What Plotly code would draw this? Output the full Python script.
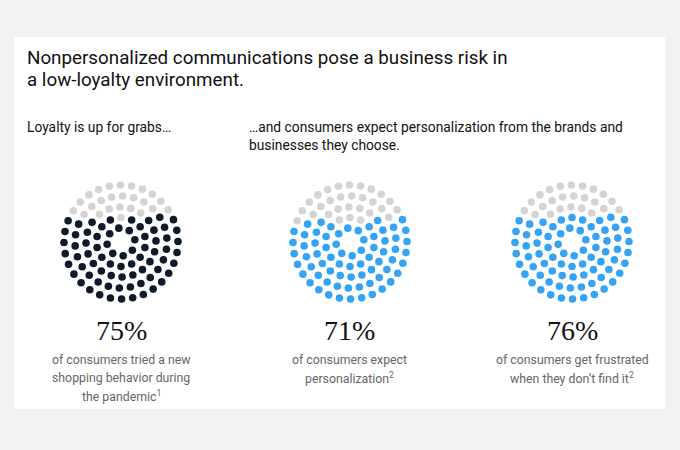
import math
import plotly.graph_objects as go

# ---- data ----
percentages = [75, 71, 76]
pct_labels = ["75%", "71%", "76%"]
fill_colors = ["#0f1b2b", "#35a4f4", "#35a4f4"]
descriptions = [
    ["of consumers tried a new", "shopping behavior during", "the pandemic<sup>1</sup>"],
    ["of consumers expect", "personalization<sup>2</sup>"],
    ["of consumers get frustrated", "when they don\u2019t find it<sup>2</sup>"],
]
title_lines = ["Nonpersonalized communications pose a business risk in",
               "a low-loyalty environment."]
sub_left = ["Loyalty is up for grabs\u2026"]
sub_right = ["\u2026and consumers expect personalization from the brands and",
             "businesses they choose."]
total_dots = 100

# ---- layout constants (pixels) ----
W, H = 680, 450
centers_x = [121, 350, 572]
center_y = 242
ring_counts = [8, 14, 20, 26, 32]
ring_radii = [14, 24.5, 35, 46, 57]
ring_offsets = [0.2, 0.5, 0.1, 0.35, 0.05]
GRAY = "#d4d4d4"

pts = []
for n, r, off in zip(ring_counts, ring_radii, ring_offsets):
    for k in range(n):
        a = 2 * math.pi * (k + off) / n
        pts.append((r * math.cos(a), r * math.sin(a)))
order = sorted(range(len(pts)), key=lambda i: pts[i][1] - 0.06 * pts[i][0])

fig = go.Figure()
half = 66
for idx, (cx, p, col) in enumerate(zip(centers_x, percentages, fill_colors)):
    filled = set(order[:p])
    colors = [col if i in filled else GRAY for i in range(len(pts))]
    ax = "" if idx == 0 else str(idx + 1)
    fig.add_trace(go.Scatter(
        x=[q[0] for q in pts], y=[q[1] for q in pts], mode="markers",
        marker=dict(size=7.6, color=colors, line=dict(width=0)),
        xaxis="x" + ax, yaxis="y" + ax, hoverinfo="skip", showlegend=False))
    xd = [(cx - half) / W, (cx + half) / W]
    yd = [(H - center_y - half) / H, (H - center_y + half) / H]
    axis_style = dict(visible=False, range=[-half, half], fixedrange=True)
    fig.update_layout(**{
        "xaxis" + ax: dict(domain=xd, **axis_style),
        "yaxis" + ax: dict(domain=yd, **axis_style),
    })

ann = []
def add_text(text, x, y, size, color, family, anchor="left", weight=None):
    f = dict(size=size, color=color, family=family)
    if weight:
        f["weight"] = weight
    ann.append(dict(text=text, x=x / W, y=1 - y / H, xref="paper", yref="paper",
                    xanchor=anchor, yanchor="middle", showarrow=False, font=f))

sans = "Roboto, Liberation Sans, sans-serif"
for i, line in enumerate(title_lines):
    add_text(line, 25, 58 + i * 22, 18.8, "#111111", sans)
for i, line in enumerate(sub_left):
    add_text(line, 25, 127 + i * 18, 13.8, "#111111", sans)
for i, line in enumerate(sub_right):
    add_text(line, 247, 127 + i * 18, 13.8, "#111111", sans)
for cx, lab, lines in zip(centers_x, pct_labels, descriptions):
    add_text(lab, cx, 330, 28, "#111111", "Liberation Serif, serif", anchor="center")
    for j, line in enumerate(lines):
        add_text(line, cx, 360 + j * 18, 12.3, "#666666", sans, anchor="center")

fig.update_layout(
    width=W, height=H, margin=dict(l=0, r=0, t=0, b=0),
    paper_bgcolor="#f2f2f2", plot_bgcolor="rgba(0,0,0,0)",
    annotations=ann,
    shapes=[dict(type="rect", xref="paper", yref="paper",
                 x0=14 / W, x1=665 / W, y0=1 - 409 / H, y1=1 - 37 / H,
                 fillcolor="white", line=dict(width=0), layer="below")],
)
fig.write_html("out.html", config={"displayModeBar": False},
               post_script="document.body.style.margin='0';document.body.style.background='#f2f2f2';")
